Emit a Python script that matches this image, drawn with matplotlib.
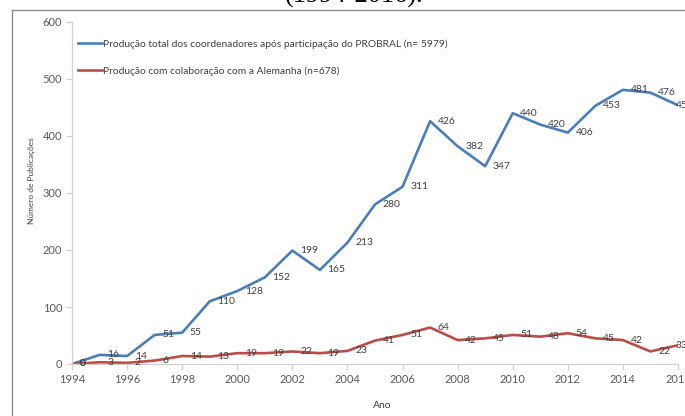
import matplotlib
matplotlib.use("Agg")
import matplotlib.pyplot as plt
from matplotlib.lines import Line2D

plt.rcParams["font.family"] = ["Lato", "DejaVu Sans"]

anos = list(range(1994, 2017))
producao_total = [0, 16, 14, 51, 55, 110, 128, 152, 199, 165, 213, 280, 311,
                  426, 382, 347, 440, 420, 406, 453, 481, 476, 454]
producao_alemanha = [0, 3, 2, 6, 14, 13, 19, 19, 22, 19, 23, 41, 51,
                     64, 42, 45, 51, 48, 54, 45, 42, 22, 33]
rotulos = ["Produção total dos coordenadores após participação do PROBRAL (n= 5979)",
           "Produção com colaboração com a Alemanha (n=678)"]

AZUL = "#4a7ebb"
VERMELHO = "#be4b48"
CINZA_EIXO = "#d0d0d0"
CINZA_TXT = "#595959"

W, H = 685, 416
fig = plt.figure(figsize=(W / 100, H / 100), dpi=100)

# moldura cortada da figura original (so topo e esquerda aparecem)
fig.add_artist(Line2D([12 / W, 12 / W], [0, 1 - 10 / H], color="#8c8c8c", lw=1.0))
fig.add_artist(Line2D([12 / W, 1], [1 - 10 / H, 1 - 10 / H], color="#8c8c8c", lw=1.0))
fig.text(354 / W, 1 - 3 / H, "(1994-2016).", family="Liberation Serif",
         fontsize=19, ha="center", va="baseline", color="black")

ax = fig.add_axes([72 / W, 52 / H, 606 / W, 342 / H])
ax.plot(anos, producao_total, color=AZUL, lw=1.9, label=rotulos[0])
ax.plot(anos, producao_alemanha, color=VERMELHO, lw=1.9, label=rotulos[1])

for serie in (producao_total, producao_alemanha):
    for i, (ano, v) in enumerate(zip(anos, serie)):
        # o ultimo rotulo fica encostado no ponto (cortado na borda, como no original)
        dx = -1.5 if i == len(anos) - 1 else 5.5
        ax.annotate(str(v), (ano, v), xytext=(dx, 0), textcoords="offset points",
                    ha="left", va="center", fontsize=7.5, color="#404040")

ax.set_xlim(1994, 2016)
ax.set_ylim(0, 600)
ax.set_xticks(range(1994, 2017, 2))
ax.set_yticks(range(0, 601, 100))
for s in ("top", "right"):
    ax.spines[s].set_visible(False)
for s in ("left", "bottom"):
    ax.spines[s].set_color(CINZA_EIXO)
    ax.spines[s].set_linewidth(0.9)
ax.tick_params(axis="both", colors=CINZA_EIXO, labelcolor=CINZA_TXT,
               labelsize=8, length=4, width=0.9, pad=3)

fig.text(382 / W, 1 - 406 / H, "Ano", ha="center", va="center",
         fontsize=7.5, color="#404040")
fig.text(32 / W, 1 - 181 / H, "Número de Publicações", rotation=90,
         ha="center", va="center", fontsize=6, color="#404040")

ax.legend(loc="upper left", bbox_to_anchor=(78 / W, 1 - 39 / H),
          bbox_transform=fig.transFigure, frameon=False, fontsize=7.4,
          handlelength=2.3, handletextpad=0.15, labelspacing=1.75,
          borderpad=0, borderaxespad=0, labelcolor="#404040")

fig.savefig("out.png", dpi=100)
